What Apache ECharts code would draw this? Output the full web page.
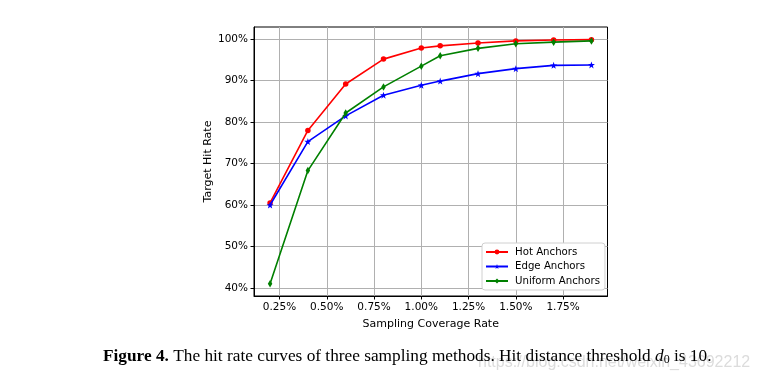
<!DOCTYPE html>
<html>
<head>
<meta charset="utf-8">
<script src="https://cdn.jsdelivr.net/npm/echarts@6/dist/echarts.min.js"></script>
<style>
html,body{margin:0;padding:0;background:#fff;}
#c{width:759px;height:383px;}
</style>
</head>
<body>
<div id="c"></div>
<script>
const coverage = [0.2, 0.4, 0.6, 0.8, 1.0, 1.1, 1.3, 1.5, 1.7, 1.9];
const hotAnchors = [60.5, 78.0, 89.2, 95.2, 97.9, 98.4, 99.1, 99.6, 99.8, 99.9];
const edgeAnchors = [60.0, 75.3, 81.5, 86.5, 88.9, 89.9, 91.7, 92.9, 93.7, 93.8];
const uniformAnchors = [41.0, 68.3, 82.2, 88.5, 93.5, 96.0, 97.8, 98.9, 99.3, 99.6];
const xTicks = [0.25, 0.5, 0.75, 1.0, 1.25, 1.5, 1.75];
const yTicks = [40, 50, 60, 70, 80, 90, 100];

const pair = (ys) => coverage.map((x, i) => [x, ys[i]]);
const starPath = 'path://M0,-10 L2.35,-3.24 L9.51,-3.09 L3.80,1.24 L5.88,8.09 L0,4 L-5.88,8.09 L-3.80,1.24 L-9.51,-3.09 L-2.35,-3.24 Z';
const font = 'DejaVu Sans';

const chart = echarts.init(document.getElementById('c'), null, {renderer: 'canvas'});
chart.setOption({
  animation: false,
  backgroundColor: '#fff',
  grid: {left: 254, right: 151.5, top: 27, bottom: 87, show: true, borderColor: '#000', borderWidth: 1, backgroundColor: 'transparent', containLabel: false},
  legend: {
    orient: 'vertical', left: 482, top: 243,
    padding: [4, 5, 4, 3],
    itemWidth: 22, itemHeight: 6, itemGap: 4.5,
    backgroundColor: '#fff', borderColor: '#d0d0d0', borderWidth: 1, borderRadius: 3,
    textStyle: {fontFamily: font, fontSize: 10.2, color: '#000', padding: [0,0,0,2]},
    data: ['Hot Anchors', 'Edge Anchors', 'Uniform Anchors']
  },
  xAxis: {
    type: 'value', min: 0.115, max: 1.985,
    name: 'Sampling Coverage Rate', nameLocation: 'middle', nameGap: 23,
    nameTextStyle: {fontFamily: font, fontSize: 11, color: '#000'},
    axisLine: {show: true, onZero: false, lineStyle: {color: '#000', width: 1}},
    axisTick: {show: true, inside: false, length: 3.5, lineStyle: {color: '#000'}, customValues: xTicks},
    axisLabel: {customValues: xTicks, margin: 6, fontFamily: font, fontSize: 10.5, color: '#000', formatter: v => v.toFixed(2) + '%'},
    splitLine: {show: true, lineStyle: {color: '#b0b0b0', width: 1}}
  },
  yAxis: {
    type: 'value', min: 38.05, max: 102.95,
    name: 'Target Hit Rate', nameLocation: 'middle', nameGap: 40, nameRotate: 90,
    nameTextStyle: {fontFamily: font, fontSize: 11, color: '#000'},
    axisLine: {show: true, onZero: false, lineStyle: {color: '#000', width: 1}},
    axisTick: {show: true, inside: false, length: 3.5, lineStyle: {color: '#000'}, customValues: yTicks},
    axisLabel: {customValues: yTicks, margin: 6, fontFamily: font, fontSize: 10.5, color: '#000', formatter: v => v + '%'},
    splitLine: {show: true, lineStyle: {color: '#b0b0b0', width: 1}}
  },
  series: [
    {name: 'Hot Anchors', type: 'line', data: pair(hotAnchors), color: '#ff0000',
     symbol: 'circle', symbolSize: 5.5, showAllSymbol: true,
     lineStyle: {width: 1.6}, itemStyle: {color: '#ff0000'}, z: 3},
    {name: 'Edge Anchors', type: 'line', data: pair(edgeAnchors), color: '#0000ff',
     symbol: starPath, symbolSize: 7, showAllSymbol: true,
     lineStyle: {width: 1.6}, itemStyle: {color: '#0000ff'}, z: 4},
    {name: 'Uniform Anchors', type: 'line', data: pair(uniformAnchors), color: '#008000',
     symbol: 'diamond', symbolSize: [4.5, 7.5], showAllSymbol: true,
     lineStyle: {width: 1.6}, itemStyle: {color: '#008000'}, z: 5}
  ],
  graphic: [
    {type: 'text', left: 478, top: 355, silent: true, z: 1,
     style: {text: 'https://blog.csdn.net/weixin_43692212', fontFamily: 'Liberation Sans', fontSize: 16, fill: '#dcdcdc'}},
    {type: 'text', left: 103, top: 348, z: 10,
     style: {
       text: '{b|Figure 4.} The hit rate curves of three sampling methods. Hit distance threshold {i|d}{s|0} is 10.',
       fontFamily: 'Liberation Serif', fontSize: 17.3, fill: '#000',
       rich: {
         b: {fontFamily: 'Liberation Serif', fontSize: 17.3, fontWeight: 'bold', fill: '#000'},
         i: {fontFamily: 'Liberation Serif', fontSize: 17.3, fontStyle: 'italic', fill: '#000'},
         s: {fontFamily: 'Liberation Serif', fontSize: 12, fill: '#000', padding: [6, 0, 0, 0]}
       }
     }}
  ]
});
</script>
</body>
</html>
